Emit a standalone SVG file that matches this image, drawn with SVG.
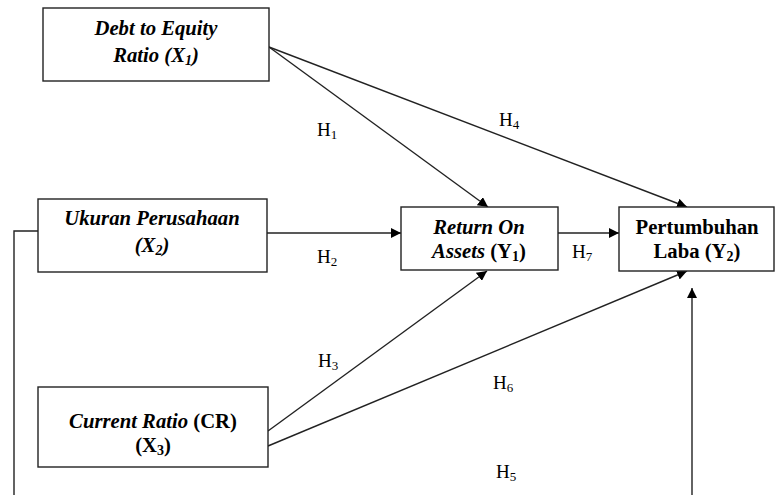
<svg xmlns="http://www.w3.org/2000/svg" width="775" height="495" viewBox="0 0 775 495">
<defs>
<style>
.box{fill:#fff;stroke:#222;stroke-width:1.4}
.ln{stroke:#222;stroke-width:1.4;fill:none}
</style>
<marker id="ah" viewBox="0 0 10 10" refX="10" refY="5" markerWidth="10" markerHeight="10" markerUnits="userSpaceOnUse" orient="auto">
<path d="M0,0 L10,5 L0,10 z" fill="#000"/>
</marker>
</defs>
<rect width="775" height="495" fill="#fff"/>
<g id="connectors">
<line class="ln" x1="269" y1="47" x2="488" y2="207" marker-end="url(#ah)"/>
<line class="ln" x1="269" y1="47" x2="687" y2="207" marker-end="url(#ah)"/>
<line class="ln" x1="267" y1="233" x2="401" y2="233" marker-end="url(#ah)"/>
<line class="ln" x1="558" y1="233" x2="619" y2="233" marker-end="url(#ah)"/>
<line class="ln" x1="268" y1="431" x2="487" y2="271" marker-end="url(#ah)"/>
<line class="ln" x1="268" y1="446" x2="687" y2="271" marker-end="url(#ah)"/>
<polyline class="ln" points="38,231 14,231 14,495"/>
<line class="ln" x1="692" y1="495" x2="692" y2="288" marker-end="url(#ah)"/>
<g font-family="Liberation Serif" font-size="19" fill="#000">
<text x="317" y="136">H<tspan font-size="13" dy="3">1</tspan></text>
<text x="499" y="126">H<tspan font-size="13" dy="3">4</tspan></text>
<text x="317" y="263">H<tspan font-size="13" dy="3">2</tspan></text>
<text x="572" y="258">H<tspan font-size="13" dy="3">7</tspan></text>
<text x="318" y="367">H<tspan font-size="13" dy="3">3</tspan></text>
<text x="493" y="389">H<tspan font-size="13" dy="3">6</tspan></text>
<text x="496" y="478">H<tspan font-size="13" dy="3">5</tspan></text>
</g>
</g>
<g id="x1" font-family="Liberation Serif" font-size="20.7" font-weight="bold" text-anchor="middle" fill="#000">
<rect class="box" x="43" y="8" width="226" height="73"/>
<text font-style="italic" x="156" y="35">Debt to Equity</text>
<text font-style="italic" x="156" y="62">Ratio (X<tspan font-size="14" dy="3">1</tspan><tspan dy="-3">)</tspan></text>
</g>
<g id="x2" font-family="Liberation Serif" font-size="20.7" font-weight="bold" text-anchor="middle" fill="#000">
<rect class="box" x="38" y="199" width="229" height="73"/>
<text font-style="italic" x="152" y="225">Ukuran Perusahaan</text>
<text font-style="italic" x="152" y="252">(X<tspan font-size="14" dy="3">2</tspan><tspan dy="-3">)</tspan></text>
</g>
<g id="y1" font-family="Liberation Serif" font-size="20.7" font-weight="bold" text-anchor="middle" fill="#000">
<rect class="box" x="401" y="207" width="157" height="63"/>
<text font-style="italic" x="479" y="234">Return On</text>
<text x="479" y="258"><tspan font-style="italic">Assets</tspan> (Y<tspan font-size="14" dy="3">1</tspan><tspan dy="-3">)</tspan></text>
</g>
<g id="y2" font-family="Liberation Serif" font-size="20.7" font-weight="bold" text-anchor="middle" fill="#000">
<rect class="box" x="619" y="207" width="155" height="64"/>
<text x="697" y="234">Pertumbuhan</text>
<text x="697" y="258">Laba (Y<tspan font-size="14" dy="3">2</tspan><tspan dy="-3">)</tspan></text>
</g>
<g id="x3" font-family="Liberation Serif" font-size="20.7" font-weight="bold" text-anchor="middle" fill="#000">
<rect class="box" x="38" y="387" width="230" height="80"/>
<text x="153" y="428"><tspan font-style="italic">Current Ratio</tspan> (CR)</text>
<text x="153" y="452">(X<tspan font-size="14" dy="3">3</tspan><tspan dy="-3">)</tspan></text>
</g>
</svg>
